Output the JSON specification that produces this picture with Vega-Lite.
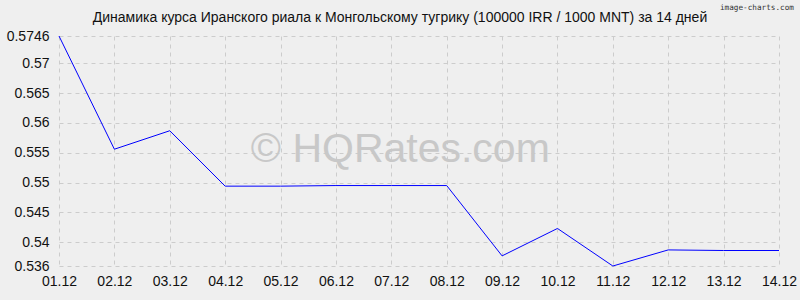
{
  "$schema": "https://vega.github.io/schema/vega-lite/v6.json",
  "width": 720,
  "height": 230,
  "autosize": "none",
  "padding": {"left": 59, "top": 36, "right": 21, "bottom": 34},
  "background": "#efefef",
  "view": {"stroke": null},
  "config": {
    "font": "Liberation Sans",
    "axis": {"labelFont": "Liberation Sans", "labelFontSize": 14, "labelColor": "#111111"}
  },
  "title": {
    "text": "Динамика курса Иранского риала к Монгольскому тугрику (100000 IRR / 1000 MNT) за 14 дней",
    "font": "Liberation Sans",
    "fontSize": 14,
    "fontWeight": "normal",
    "color": "#111111",
    "anchor": "middle",
    "frame": "group",
    "dx": -19,
    "offset": -21
  },
  "data": {
    "values": [
      {"date": "01.12", "rate": 0.5746},
      {"date": "02.12", "rate": 0.5556},
      {"date": "03.12", "rate": 0.5587},
      {"date": "04.12", "rate": 0.5494},
      {"date": "05.12", "rate": 0.5494},
      {"date": "06.12", "rate": 0.5495},
      {"date": "07.12", "rate": 0.5495},
      {"date": "08.12", "rate": 0.5495},
      {"date": "09.12", "rate": 0.5377},
      {"date": "10.12", "rate": 0.5423},
      {"date": "11.12", "rate": 0.5360},
      {"date": "12.12", "rate": 0.5387},
      {"date": "13.12", "rate": 0.5386},
      {"date": "14.12", "rate": 0.5386}
    ]
  },
  "encoding": {
    "x": {
      "field": "date",
      "type": "ordinal",
      "scale": {"type": "point", "padding": 0},
      "axis": {
        "title": null,
        "labelAngle": 0,
        "labelFont": "Liberation Sans",
        "labelFontSize": 14,
        "labelColor": "#111111",
        "labelPadding": 8,
        "ticks": false,
        "domain": false,
        "grid": true,
        "gridColor": "#cccccc",
        "gridDash": [4, 4],
        "gridWidth": 1
      }
    },
    "y": {
      "field": "rate",
      "type": "quantitative",
      "scale": {"domain": [0.536, 0.5746], "nice": false, "zero": false},
      "axis": {
        "title": null,
        "values": [0.536, 0.54, 0.545, 0.55, 0.555, 0.56, 0.565, 0.57, 0.5746],
        "labelExpr": "format(datum.value, '.4~f')",
        "labelFont": "Liberation Sans",
        "labelFontSize": 14,
        "labelColor": "#111111",
        "labelPadding": 10,
        "labelFlush": false,
        "labelOverlap": false,
        "ticks": false,
        "domain": false,
        "grid": true,
        "gridColor": "#cccccc",
        "gridDash": [4, 4],
        "gridWidth": 1
      }
    }
  },
  "layer": [
    {
      "data": {"values": [{"label": "© HQRates.com", "date": "07.12", "rate": 0.5534}]},
      "mark": {"type": "text", "font": "Liberation Sans", "fontSize": 41, "color": "#c8c8c8", "align": "center", "baseline": "alphabetic", "dx": 9},
      "encoding": {
        "text": {"field": "label"}
      }
    },
    {
      "data": {"values": [{"label": "image-charts.com", "date": "14.12", "rate": 0.5746}]},
      "mark": {"type": "text", "font": "DejaVu Sans Mono", "fontSize": 7.7, "color": "#333333", "align": "right", "baseline": "middle", "dx": 15, "dy": -28, "clip": false},
      "encoding": {
        "text": {"field": "label"}
      }
    },
    {
      "mark": {"type": "line", "color": "#0000ff", "strokeWidth": 1},
      "encoding": {}
    }
  ]
}
